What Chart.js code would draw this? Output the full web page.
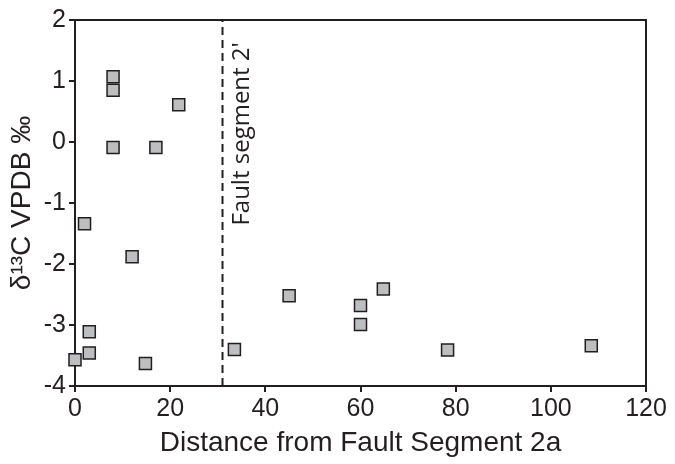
<!DOCTYPE html>
<html>
<head>
<meta charset="utf-8">
<script src="https://cdn.jsdelivr.net/npm/chart.js@4.4.1/dist/chart.umd.min.js"></script>
<style>
  html, body { margin: 0; padding: 0; background: #fff; }
  #wrap { width: 675px; height: 464px; }
</style>
</head>
<body>
<div id="wrap"><canvas id="c"></canvas></div>
<script>
// distance from fault segment 2a vs carbon isotope value
const distance = [8, 8, 8, 17, 21.8, 2, 12, 3, 3, 0, 14.8, 33.5, 45, 64.8, 60, 60, 78.3, 108.5];
const d13C = [1.07, 0.85, -0.09, -0.09, 0.61, -1.34, -1.88, -3.11, -3.46, -3.57, -3.63, -3.40, -2.52, -2.41, -2.68, -2.99, -3.41, -3.34];

const xTicks = { min: 0, max: 120, step: 20 };
const yTicks = { min: -4, max: 2, step: 1 };

const faultX = 31;
const faultLabel = "Fault segment 2'";

const ink = '#231f20';

const points = distance.map((d, i) => ({ x: d, y: d13C[i] }));

// box frame on top/right plus the rotated fault label
const extras = {
  id: 'extras',
  beforeDatasetsDraw(chart) {
    const { ctx, chartArea: a } = chart;
    ctx.save();
    ctx.strokeStyle = ink;
    ctx.lineWidth = 2;
    ctx.beginPath();
    ctx.moveTo(a.left, a.top);
    ctx.lineTo(a.right, a.top);
    ctx.lineTo(a.right, a.bottom);
    ctx.stroke();
    ctx.restore();
  },
  afterDatasetsDraw(chart) {
    const { ctx } = chart;
    const xs = chart.scales.x, ys = chart.scales.y;
    ctx.save();
    ctx.translate(xs.getPixelForValue(faultX) + 20, ys.getPixelForValue(-1.37));
    ctx.rotate(-Math.PI / 2);
    ctx.fillStyle = ink;
    ctx.font = '24px "Open Sans"';
    ctx.textAlign = 'left';
    ctx.textBaseline = 'middle';
    ctx.fillText(faultLabel, 0, 0);
    ctx.restore();
  }
};

new Chart(document.getElementById('c'), {
  type: 'scatter',
  data: {
    datasets: [
      {
        data: points,
        pointStyle: 'rect',
        pointRadius: 8.5,
        pointBackgroundColor: '#bcbec0',
        pointBorderColor: ink,
        pointBorderWidth: 1.5,
        clip: false,
        order: 0
      },
      {
        type: 'line',
        data: [{ x: faultX, y: yTicks.min }, { x: faultX, y: yTicks.max }],
        borderColor: ink,
        borderWidth: 2,
        borderDash: [8, 5],
        pointRadius: 0,
        order: 1
      }
    ]
  },
  options: {
    responsive: true,
    maintainAspectRatio: false,
    animation: false,
    layout: { padding: { top: 20, right: 29, left: 0, bottom: 0 } },
    plugins: { legend: { display: false }, tooltip: { enabled: false } },
    scales: {
      x: {
        type: 'linear',
        min: xTicks.min, max: xTicks.max,
        ticks: { stepSize: xTicks.step, color: ink, font: { family: 'Liberation Sans', size: 25 }, padding: 2, maxRotation: 0 },
        grid: { display: true, drawOnChartArea: false, drawTicks: true, tickLength: 6, color: ink, lineWidth: 2 },
        border: { display: true, color: ink, width: 2 },
        title: { display: true, text: 'Distance from Fault Segment 2a', color: ink,
                 font: { family: 'Liberation Sans', size: 28 }, padding: { top: 0, bottom: 4 } },
        afterFit(s) { s.height = 78; }
      },
      y: {
        type: 'linear',
        min: yTicks.min, max: yTicks.max,
        ticks: { stepSize: yTicks.step, color: ink, font: { family: 'Liberation Sans', size: 25 }, padding: 3 },
        grid: { display: true, drawOnChartArea: false, drawTicks: true, tickLength: 6, color: ink, lineWidth: 2 },
        border: { display: true, color: ink, width: 2 },
        title: { display: true, text: 'δ¹³C VPDB ‰', color: ink,
                 font: { family: 'Liberation Sans', size: 28 }, padding: { top: 5, bottom: 0 } },
        afterFit(s) { s.width = 75; }
      }
    }
  },
  plugins: [extras]
});
</script>
</body>
</html>
